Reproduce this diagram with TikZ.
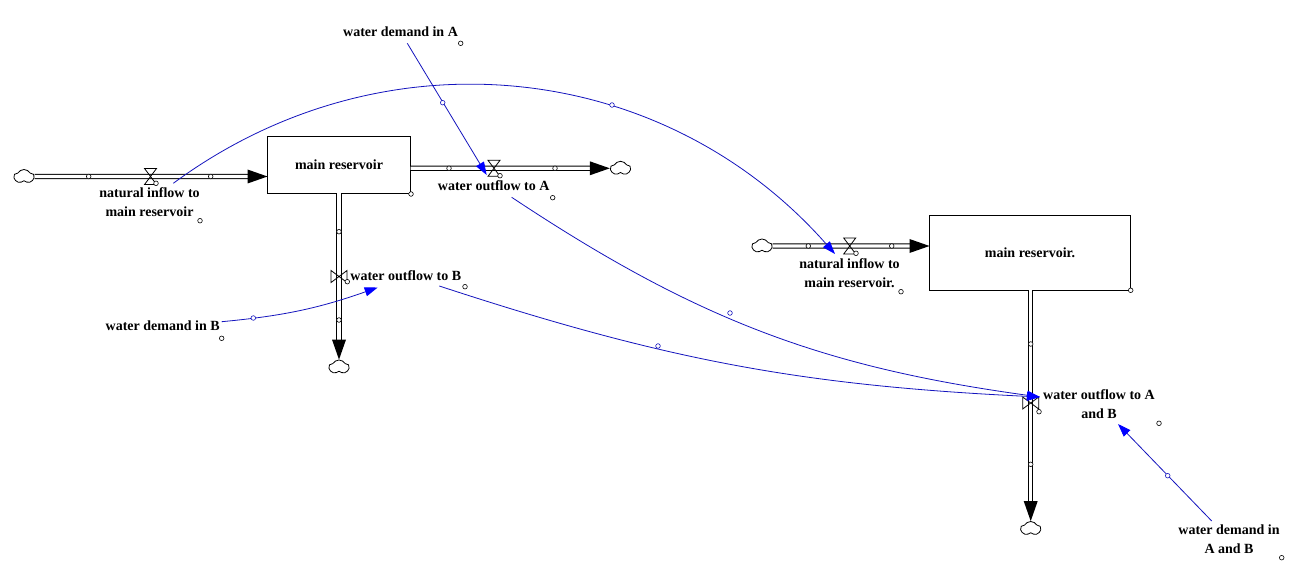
\documentclass[tikz,border=0pt]{standalone}
\usepackage{fontspec}
\setmainfont{Liberation Serif}
\usetikzlibrary{shapes.symbols,arrows.meta}
\definecolor{conncol}{RGB}{20,20,190}
\definecolor{headcol}{RGB}{0,0,255}
\begin{document}
\begin{tikzpicture}[x=1pt,y=-1pt,
  lbl/.style={font=\fontsize{14}{19}\selectfont\bfseries, align=center, inner sep=0pt},
  stock/.style={draw, line width=0.9pt, inner sep=0pt},
  cloudnode/.style={cloud, cloud puffs=5, cloud puff arc=120, aspect=1.4, draw, line width=0.8pt, minimum width=20pt, minimum height=14pt, inner sep=0pt},
  pipe/.style={draw, line width=1pt, double=white, double distance=3.2pt},
  connector/.style={draw=conncol, line width=0.8pt, -{Triangle[length=13pt,width=9pt,color=headcol]}},
  hdl/.style={draw, fill=white, line width=0.6pt},
  bhdl/.style={draw=conncol, fill=white, line width=0.6pt},
  hvalve/.pic={\draw[line width=0.8pt] (-6,-8) -- (6,-8) -- (-6,8) -- (6,8) -- cycle;},
  vvalve/.pic={\draw[line width=0.8pt] (-8,-6) -- (-8,6) -- (8,-6) -- (8,6) -- cycle;},
  ftip/.pic={\fill (0,0) -- (-20,-7) -- (-20,7) -- cycle;},
]
\useasboundingbox (0,0) rectangle (1305,577);
\fill[white] (0,0) rectangle (1305,577);

% clouds
\node[cloudnode] (cl1) at (24,176.5) {};
\node[cloudnode] (cl2) at (620.5,168.3) {};
\node[cloudnode] (cl3) at (339,367) {};
\node[cloudnode] (cl4) at (762,246) {};
\node[cloudnode] (cl5) at (1030.7,528.5) {};

% stocks
\node[stock, minimum width=143pt, minimum height=57pt] (res1) at (339,165) {};
\node[lbl] at (res1.center) {main reservoir};
\node[stock, minimum width=201pt, minimum height=75pt] (res2) at (1030,252.5) {};
\node[lbl] at (res2.center) {main reservoir.};

% pipe end points
\coordinate (p1e) at (267.5,176.5);
\coordinate (p2s) at (410.5,168.3);
\coordinate (p3s) at (339,193.5);
\coordinate (p4e) at (929.5,246);
\coordinate (p5s) at (1030.7,290);

% pipes
\draw[pipe, shorten >=19pt] (cl1.east) -- (p1e);
\draw[pipe, shorten >=19pt] (p2s) -- (cl2.west);
\draw[pipe, shorten >=19pt] (p3s) -- (cl3.north);
\draw[pipe, shorten >=19pt] (cl4.east) -- (p4e);
\draw[pipe, shorten >=19pt] (p5s) -- (cl5.north);

% pipe arrow heads
\pic at (p1e) {ftip};
\pic at (cl2.west) {ftip};
\pic[rotate=-90] at (cl3.north) {ftip};
\pic at (p4e) {ftip};
\pic[rotate=-90] at (cl5.north) {ftip};

% valves
\coordinate (v1) at (150.5,176.5);
\coordinate (v2) at (494,168.3);
\coordinate (v3) at (339,276.5);
\coordinate (v4) at (849.7,246);
\coordinate (v5) at (1030.7,403);
\pic at (v1) {hvalve};
\pic at (v2) {hvalve};
\pic at (v3) {vvalve};
\pic at (v4) {hvalve};
\pic at (v5) {vvalve};

% pipe handles
\foreach \p in {(88.7,176.5),(210.7,176.5),(449,168.3),(555,168.3),(339,231.7),(339,320),(808.3,246),(891.7,246),(1030.7,344),(1030.7,464.3)}
  \draw[hdl] \p circle (2.3);

% labels
\node[lbl] (lv1) at (149.5,202.5) {natural inflow to\\main reservoir};
\node[lbl] (lv2) at (493.7,186) {water outflow to A};
\node[lbl] (lv3) at (405.8,276) {water outflow to B};
\node[lbl] (lv4) at (849.5,273) {natural inflow to\\main reservoir.};
\node[lbl] (lv5) at (1099,404.5) {water outflow to A\\and B};
\node[lbl] (dA) at (400.5,32) {water demand in A};
\node[lbl] (dB) at (162.7,326) {water demand in B};
\node[lbl] (dAB) at (1229,539.5) {water demand in\\A and B};

% label / corner circles
\foreach \p in {(156,183.3),(500,175.7),(347.3,281.7),(856,253.3),(1039,411.7),(411,194),(1130.7,290.3),(200,220.7),(552.7,197.7),(465,286.7),(901,291.7),(1159,423.3),(460.7,43.3),(221.7,338.3),(1281.7,557.7)}
  \draw[hdl] \p circle (2.3);

% connector end points
\coordinate (cA0) at (407.3,43.3);
\coordinate (cA1) at (486.7,175);
\coordinate (cB0) at (173.3,183.3);
\coordinate (cB1) at (835,254);
\coordinate (cC0) at (511.7,197.3);
\coordinate (cD0) at (439.3,286);
\coordinate (cT) at (1040,397);
\coordinate (cE0) at (221.7,321.7);
\coordinate (cE1) at (377.7,287.5);
\coordinate (cF0) at (1211.7,521);
\coordinate (cF1) at (1118,424);

% connectors
\draw[connector] (cA0) -- (cA1);
\draw[connector] (cB0) to[bend left=42.5] (cB1);
\draw[connector] (cC0) to[bend right=12.9] (cT);
\draw[connector] (cD0) to[bend right=7.7] (cT);
\draw[connector] (cE0) to[bend right=7] (cE1);
\draw[connector] (cF0) -- (cF1);

% connector handles
\foreach \p in {(442.7,102.7),(612,105),(730,313),(658,346),(253.3,318),(1167.7,475.7)}
  \draw[bhdl] \p circle (2.3);
\end{tikzpicture}
\end{document}
